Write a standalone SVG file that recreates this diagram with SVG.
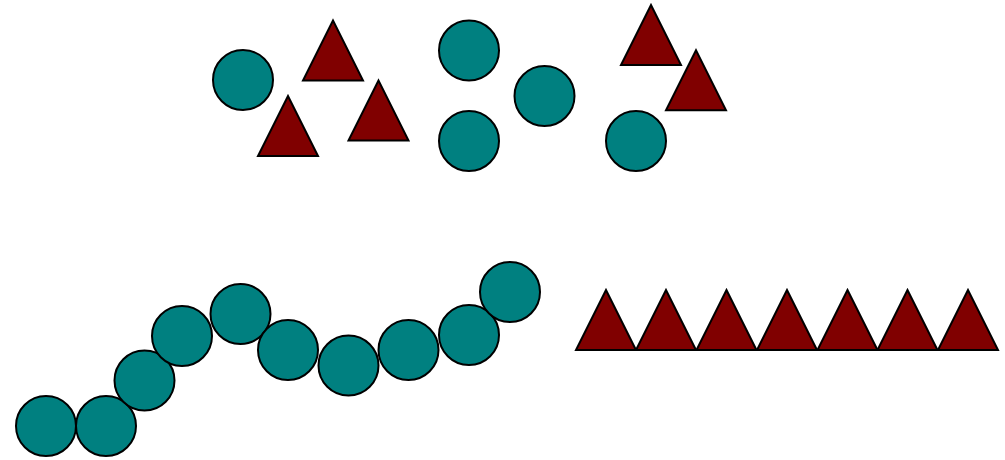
<svg xmlns="http://www.w3.org/2000/svg" width="1005" height="460" viewBox="0 0 1005 460">
<defs>
<style>
.c{fill:#008080;stroke:#000;stroke-width:2}
.t{fill:#800000;stroke:#000;stroke-width:2;stroke-linejoin:miter}
</style>
<polygon id="tri" class="t" points="-30,30 30,30 0,-30"/>
</defs>
<rect width="1005" height="460" fill="#fff"/>
<g id="top">
<circle class="c" cx="243" cy="80" r="30"/>
<use href="#tri" x="333" y="50.5"/>
<use href="#tri" x="288" y="126"/>
<use href="#tri" x="378.5" y="110.5"/>
<circle class="c" cx="469" cy="50.5" r="30"/>
<circle class="c" cx="544.5" cy="96" r="30"/>
<circle class="c" cx="469" cy="141" r="30"/>
<circle class="c" cx="636" cy="141" r="30"/>
<use href="#tri" x="651" y="35"/>
<use href="#tri" x="696" y="80.3"/>
</g>
<g id="chain">
<circle class="c" cx="46" cy="426" r="30"/>
<circle class="c" cx="106" cy="426" r="30"/>
<circle class="c" cx="144.5" cy="380.5" r="30"/>
<circle class="c" cx="182" cy="336" r="30"/>
<circle class="c" cx="240.5" cy="314" r="30"/>
<circle class="c" cx="288" cy="350" r="30"/>
<circle class="c" cx="348.5" cy="365.5" r="30"/>
<circle class="c" cx="408.5" cy="350" r="30"/>
<circle class="c" cx="469" cy="335" r="30"/>
<circle class="c" cx="510" cy="292" r="30"/>
</g>
<g id="row">
<use href="#tri" x="606" y="320"/>
<use href="#tri" x="666" y="320"/>
<use href="#tri" x="726.5" y="320"/>
<use href="#tri" x="787" y="320"/>
<use href="#tri" x="847.5" y="320"/>
<use href="#tri" x="907.5" y="320"/>
<use href="#tri" x="968" y="320"/>
</g>
</svg>
